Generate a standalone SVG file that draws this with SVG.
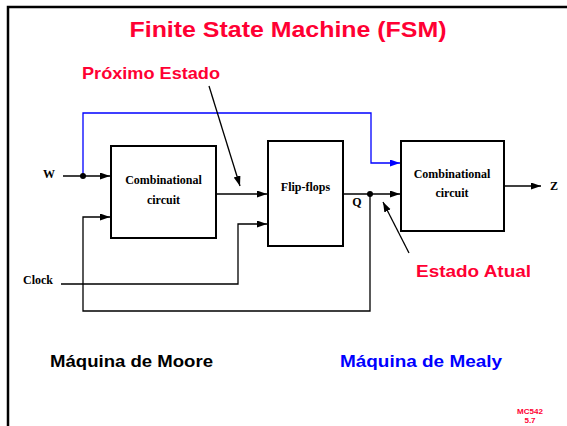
<svg xmlns="http://www.w3.org/2000/svg" width="567" height="426" viewBox="0 0 567 426">
<defs>
<style>
.ln{fill:none;stroke:#000;stroke-width:1.3}
.bl{fill:none;stroke:#0000ff;stroke-width:1.3}
.bx{fill:#fff;stroke:#000;stroke-width:2}
.tm{font-family:"Liberation Serif",serif;font-weight:bold;font-size:12px;fill:#000}
.cs{font-family:"Liberation Sans",sans-serif;font-weight:bold}
.red{fill:#ff0033}
</style>
<marker id="ah" markerUnits="userSpaceOnUse" markerWidth="11" markerHeight="8" refX="10" refY="3.5" orient="auto">
<path d="M0,0 L10,3.5 L0,7 z" fill="#000"/>
</marker>
<marker id="ahb" markerUnits="userSpaceOnUse" markerWidth="11" markerHeight="8" refX="10" refY="3.5" orient="auto">
<path d="M0,0 L10,3.5 L0,7 z" fill="#0000ff"/>
</marker>
</defs>
<rect width="567" height="426" fill="#fff"/>
<path d="M8,426 V7 H567" fill="none" stroke="#000" stroke-width="2.5"/>
<text class="cs red" x="288" y="37" font-size="22" text-anchor="middle" textLength="317" lengthAdjust="spacingAndGlyphs">Finite State Machine (FSM)</text>
<text class="cs red" x="82" y="79" font-size="17" textLength="138" lengthAdjust="spacingAndGlyphs">Próximo Estado</text>
<text class="cs red" x="416" y="277" font-size="17" textLength="115" lengthAdjust="spacingAndGlyphs">Estado Atual</text>
<text class="cs" x="50" y="367" font-size="16" fill="#000" textLength="163" lengthAdjust="spacingAndGlyphs">Máquina de Moore</text>
<text class="cs" x="340" y="367" font-size="16" fill="#0000ff" textLength="162" lengthAdjust="spacingAndGlyphs">Máquina de Mealy</text>
<text class="cs red" x="530" y="414" font-size="8" text-anchor="middle">MC542</text>
<text class="cs red" x="530" y="423" font-size="8" text-anchor="middle">5.7</text>
<g id="connectors">
<path class="ln" d="M63,176 H110" marker-end="url(#ah)"/>
<path class="bl" d="M83,176 V113 H371 V163 H400" marker-end="url(#ahb)"/>
<path class="ln" d="M216,194 H267" marker-end="url(#ah)"/>
<path class="ln" d="M61,284 H238 V224 H267" marker-end="url(#ah)"/>
<path class="ln" d="M343,194 H400" marker-end="url(#ah)"/>
<path class="ln" d="M370,194 V311 H83 V217 H110" marker-end="url(#ah)"/>
<path class="ln" d="M504,186 H541" marker-end="url(#ah)"/>
<path class="ln" d="M209,86 L240,186" marker-end="url(#ah)"/>
<path class="ln" d="M409,253 L383,202" marker-end="url(#ah)"/>
<circle cx="83" cy="176" r="3" fill="#000"/>
<circle cx="370" cy="194" r="3" fill="#000"/>
</g>
<g id="W"><text class="tm" x="43" y="178" font-size="11">W</text></g>
<g id="Clock"><text class="tm" x="23" y="284" font-size="11">Clock</text></g>
<g id="Q"><text class="tm" x="357" y="206" text-anchor="middle">Q</text></g>
<g id="Z"><text class="tm" x="550" y="190">Z</text></g>
<g id="comb1">
<rect class="bx" x="111" y="146" width="105" height="92"/>
<text class="tm" x="163.5" y="184" text-anchor="middle">Combinational</text>
<text class="tm" x="163.5" y="204" text-anchor="middle">circuit</text>
</g>
<g id="flipflops">
<rect class="bx" x="268" y="141" width="75" height="105"/>
<text class="tm" x="305.5" y="191" text-anchor="middle">Flip-flops</text>
</g>
<g id="comb2">
<rect class="bx" x="401" y="141" width="103" height="90"/>
<text class="tm" x="452" y="178" text-anchor="middle">Combinational</text>
<text class="tm" x="452" y="197" text-anchor="middle">circuit</text>
</g>
</svg>
